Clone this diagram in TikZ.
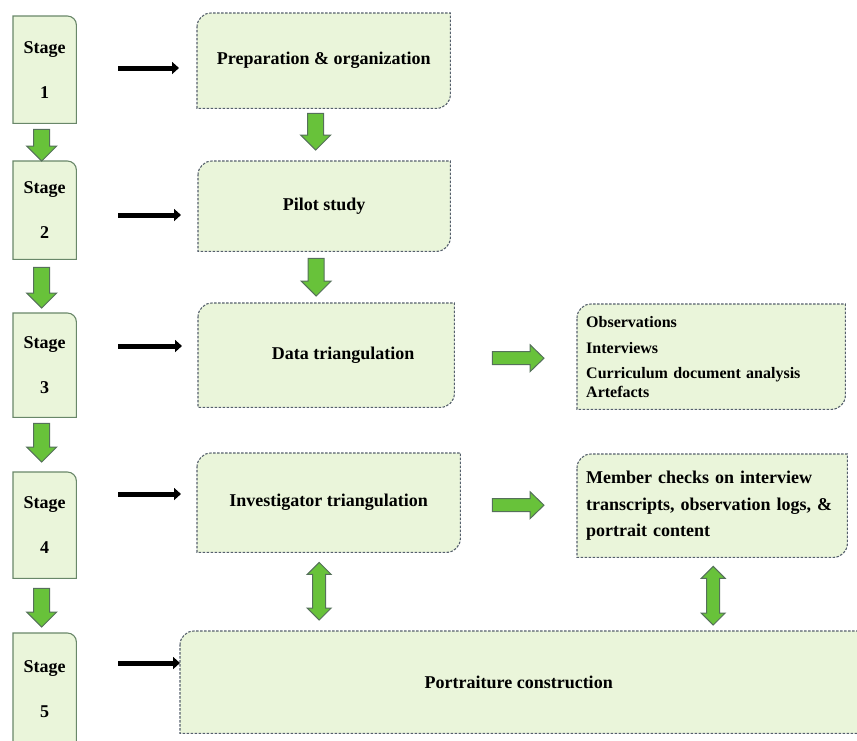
\documentclass[tikz,border=0pt]{standalone}
\usepackage{fontspec}
\newfontfamily\tnr{Liberation Serif}
\usetikzlibrary{arrows.meta,calc,backgrounds}
\definecolor{boxfill}{RGB}{234,245,218}
\definecolor{stagecol}{RGB}{105,135,105}
\definecolor{dashcol}{RGB}{85,95,108}
\definecolor{garrfill}{RGB}{104,194,58}
\definecolor{garrcol}{RGB}{85,112,90}
\tikzset{
  wh/.style 2 args={minimum width=#1,minimum height=#2},
  stage/.style={anchor=north west,inner sep=0pt,align=center,font=\fontsize{18}{20}\selectfont\tnr\bfseries},
  main/.style={anchor=north west,inner sep=0pt,align=center,font=\fontsize{18}{22}\selectfont\tnr\bfseries},
  side/.style={anchor=north west,inner xsep=9pt,inner ysep=0pt,align=left},
  sedge/.style={draw=stagecol,fill=boxfill,line width=1.1pt},
  dedge/.style={draw=dashcol,fill=boxfill,line width=1.1pt,dash pattern=on 2.5pt off 1.5pt},
  blk/.style={line width=5pt,-{Triangle[length=7pt,width=12pt]}},
  garr/.style={draw=garrcol,fill=garrfill,line width=1pt},
  gdown/.style={garr,to path={let \p1=(\tikztostart),\p2=(\tikztotarget) in
    (\x1-8pt,\y1) -- (\x1-8pt,\y2+15pt) -- (\x1-15pt,\y2+15pt) -- (\x1,\y2)
    -- (\x1+15pt,\y2+15pt) -- (\x1+8pt,\y2+15pt) -- (\x1+8pt,\y1) -- cycle}},
  gright/.style={garr,to path={let \p1=(\tikztostart),\p2=(\tikztotarget) in
    (\x1,\y1+6.5pt) -- (\x2-14pt,\y1+6.5pt) -- (\x2-14pt,\y1+13.5pt) -- (\x2,\y1)
    -- (\x2-14pt,\y1-13.5pt) -- (\x2-14pt,\y1-6.5pt) -- (\x1,\y1-6.5pt) -- cycle}},
  gboth/.style={garr,to path={let \p1=(\tikztostart),\p2=(\tikztotarget) in
    (\x1,\y1) -- (\x1+12pt,\y1-12pt) -- (\x1+6.5pt,\y1-12pt) -- (\x1+6.5pt,\y2+12pt)
    -- (\x1+12pt,\y2+12pt) -- (\x1,\y2) -- (\x1-12pt,\y2+12pt) -- (\x1-6.5pt,\y2+12pt)
    -- (\x1-6.5pt,\y1-12pt) -- (\x1-12pt,\y1-12pt) -- cycle}}
}
\newcommand\stageedge[1]{\path[sedge] (#1.north west) -- ([xshift=-9pt]#1.north east)
  arc[start angle=90,end angle=0,radius=9pt] -- (#1.south east) -- (#1.south west) -- cycle;}
\newcommand\mainedge[1]{\path[dedge] ([yshift=-14pt]#1.north west) arc[start angle=180,end angle=90,radius=14pt]
  -- (#1.north east) -- ([yshift=14pt]#1.south east) arc[start angle=0,end angle=-90,radius=14pt]
  -- (#1.south west) -- cycle;}

\begin{document}
\begin{tikzpicture}[x=1pt,y=1pt]
  \useasboundingbox (0,0) rectangle (857,-740);
  \node[stage,wh={63pt}{107pt}] (s1) at (13,-16) {Stage\\[25pt]1};
  \node[stage,wh={63pt}{98pt}] (s2) at (13,-161) {Stage\\[25pt]2};
  \node[stage,wh={63pt}{104pt}] (s3) at (13,-313) {Stage\\[25pt]3};
  \node[stage,wh={63pt}{106pt}] (s4) at (13,-472) {Stage\\[25pt]4};
  \node[stage,wh={63pt}{112pt}] (s5) at (13,-633) {Stage\\[25pt]5};
  \node[main,wh={253pt}{95pt}] (prep) at (197,-13) {\raisebox{5pt}{Preparation \& organization}};
  \node[main,wh={252pt}{90pt}] (pilot) at (198,-161) {Pilot study};
  \node[main,wh={256pt}{104pt}] (data) at (198,-303) {\hspace*{34pt}Data triangulation};
  \node[main,wh={263pt}{99pt}] (inv) at (197,-453) {Investigator triangulation};
  \node[main,wh={677pt}{102pt}] (port) at (180,-631) {Portraiture construction};
  \node[side,wh={268pt}{105pt},text width=250pt,font=\fontsize{16}{19}\selectfont\tnr\bfseries] (obs) at (577,-304)
    {Observations\\[7pt]Interviews\\[6pt]Curriculum document analysis\\Artefacts};
  \node[side,wh={270pt}{103pt},text width=252pt,font=\fontsize{18}{26.5}\selectfont\tnr\bfseries] (mem) at (577,-454)
    {Member checks on interview\\transcripts, observation logs, \&\\portrait content};
  \begin{scope}[on background layer]
    \foreach \n in {s1,s2,s3,s4,s5} {\stageedge{\n}}
    \foreach \n in {prep,pilot,data,inv,obs,mem} {\mainedge{\n}}
    \path[dedge] ([yshift=-14pt]port.north west) arc[start angle=180,end angle=90,radius=14pt]
      -- ([xshift=30pt]port.north east) -- ([xshift=30pt]port.south east) -- (port.south west) -- cycle;
  \end{scope}
  \foreach \sa/\sb/\drop/\gap in {s1/prep/52/18,s2/pilot/54/17,s3/data/33/16,s4/inv/22/16,s5/port/30/0}
    \draw[blk] ($(\sa.north east)+(42,-\drop)$) -- ($(\sa.north east -| \sb.west)+(-\gap,-\drop)$);
  \foreach \sa/\sb/\gap/\hop in {s1/s2/6/0,s2/s3/8/5,s3/s4/6/10,s4/s5/10/6}
    \draw[gdown] ($(\sa.south)+(-3,-\gap)$) to ($(\sa.south |- \sb.north)+(-3,\hop)$);
  \draw[gdown] ($(prep.south)+(-8,-5)$) to ($(prep.south |- pilot.north)+(-8,11)$);
  \draw[gdown] ($(pilot.south)+(-8,-7)$) to ($(pilot.south |- data.north)+(-8,7)$);
  \draw[gright] ($(data.east)+(38,-3)$) to ($(data.east -| obs.west)+(-33,-3)$);
  \draw[gright] ($(inv.east)+(32,-2.5)$) to ($(inv.east -| mem.west)+(-33,-2.5)$);
  \draw[gboth] ($(inv.south)+(-9.5,-10)$) to ($(inv.south |- port.north)+(-9.5,11)$);
  \draw[gboth] ($(mem.south)+(1,-9)$) to ($(mem.south |- port.north)+(1,6)$);
\end{tikzpicture}
\end{document}
